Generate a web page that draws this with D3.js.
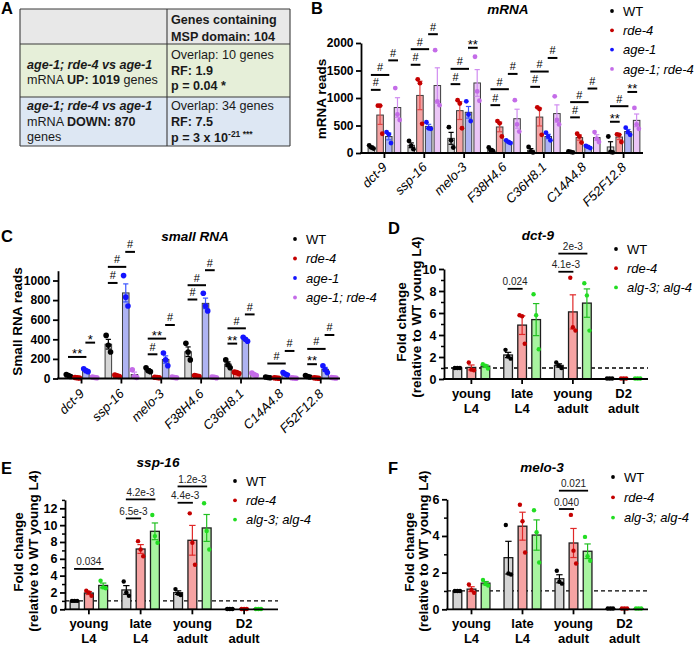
<!DOCTYPE html>
<html><head><meta charset="utf-8">
<script src="https://cdn.jsdelivr.net/npm/d3@7"></script>
<style>
body{margin:0;background:#fff;}
svg{display:block;font-family:"Liberation Sans",Arial,Helvetica,sans-serif;}
</style></head><body>
<svg id="fig" width="699" height="645"></svg>
<script>
// ================= DATA =================
const genes = ["dct-9","ssp-16","melo-3","F38H4.6","C36H8.1","C14A4.8","F52F12.8"];
const strainsBC = ["WT","rde-4","age-1","age-1; rde-4"];

// Panel B: mRNA reads (three replicates per gene)
const mrnaWT      = [[140,100,80],[220,130,70],[470,230,100],[100,50,30],[110,30,10],[30,20,10],[300,20,10]];
const mrnaRde4    = [[860,860,350],[1340,1270,530],[960,900,450],[580,540,300],[830,800,330],[350,300,190],[340,330,200]];
const mrnaAge1    = [[380,340,180],[560,450,440],[940,700,580],[230,200,180],[370,300,230],[130,110,90],[460,380,330]];
const mrnaAgeRde4 = [[1180,700,600],[1870,940,870],[1750,1120,950],[960,520,390],[1030,600,520],[380,260,200],[820,520,440]];
const mrnaTicks = [0,500,1000,1500,2000];
// [gene, from series, to series, height, label]
const mrnaSig = [
 [0,0,1,1148,"#"],[0,0,2,1419,"#"],[0,2,3,1684,"#"],
 [1,0,1,1604,"#"],[1,0,2,1888,"#"],[1,2,3,2160,"#"],
 [2,0,1,1252,"#"],[2,0,2,1530,"#"],[2,2,3,1913,"**"],
 [3,0,1,870,"#"],[3,0,2,1160,"#"],[3,2,3,1438,"#"],
 [4,0,1,1203,"#"],[4,0,2,1481,"#"],[4,2,3,1728,"#"],
 [5,0,1,648,"#"],[5,0,2,925,"#"],[5,2,3,1172,"#"],
 [6,0,1,568,"**"],[6,0,2,851,"#"],[6,2,3,1110,"**"]
];

// Panel C: small RNA reads
const smallWT      = [[40,30,20],[440,340,270],[110,80,70],[360,270,190],[190,140,110],[15,10,8],[30,20,15]];
const smallRde4    = [[10,8,5],[35,28,20],[12,10,8],[30,25,20],[65,60,50],[8,5,3],[8,5,3]];
const smallAge1    = [[100,80,70],[1050,830,740],[260,190,130],[870,740,690],[420,400,380],[60,45,35],[130,90,60]];
const smallAgeRde4 = [[15,10,8],[90,20,10],[15,10,8],[15,12,8],[55,40,30],[8,5,3],[10,8,5]];
const smallTicks = [0,200,400,600,800,1000];
const smallSig = [
 [0,0,2,220,"**"],[0,2,3,366,"*"],
 [1,0,1,975,"#"],[1,0,2,1139,"#"],[1,2,3,1292,"#"],
 [2,0,1,247,"#"],[2,0,2,407,"**"],[2,2,3,546,"#"],
 [3,0,1,806,"#"],[3,0,2,952,"#"],[3,2,3,1105,"#"],
 [4,0,1,356,"**"],[4,0,2,512,"#"],[4,2,3,654,"#"],
 [5,0,2,153,"#"],[5,2,3,281,"#"],
 [6,0,1,146,"**"],[6,0,2,302,"#"],[6,2,3,444,"#"]
];

// Panels D-F: fold change (relative to WT young L4)
const stages = [["young","L4"],["late","L4"],["young","adult"],["D2","adult"]];
const strainsDEF = ["WT","rde-4","alg-3; alg-4"];

const dct9WT   = [[1,1,1],[2.65,2.05,1.85],[1.5,1.2,1.0],[0.04,0.04,0.04]];
const dct9Rde4 = [[1.5,0.85,0.8],[5.8,5.7,3.2],[9.2,4.7,4.4],[0.04,0.04,0.04]];
const dct9Alg  = [[1.35,1.2,0.95],[7.7,5.8,2.7],[8.7,7.6,4.4],[0.04,0.04,0.04]];
const dct9Ticks = [0,2,4,6,8,10];
const dct9Sig = [[1,0,1,8.2,"0.024"],[2,0,1,9.75,"4.1e-3"],[2,0,2,11.4,"2e-3"]];

const ssp16WT   = [[1,1,1],[3.3,2.0,1.6],[2.4,1.85,1.7],[0.04,0.04,0.04]];
const ssp16Rde4 = [[2.2,2.0,1.6],[8.1,7.1,6.3],[11.4,7.9,5.3],[0.04,0.04,0.04]];
const ssp16Alg  = [[3.4,2.6,2.5],[11.2,8.7,7.9],[12.6,9.3,7.1],[0.04,0.04,0.04]];
const ssp16Ticks = [0,2,4,6,8,10,12];
const ssp16Sig = [[0,0,2,4.8,"0.034"],[1,0,1,10.8,"6.5e-3"],[1,0,2,13.06,"4.2e-3"],[2,0,1,12.66,"4.4e-3"],[2,0,2,14.6,"1.2e-3"]];

const melo3WT   = [[1,1,1],[4.6,1.95,1.9],[2.1,1.5,1.4],[0.04,0.04,0.04]];
const melo3Rde4 = [[1.35,1.05,0.9],[5.7,4.8,3.1],[5.15,3.2,2.5],[0.04,0.04,0.04]];
const melo3Alg  = [[1.6,1.38,1.3],[5.4,4.2,2.55],[3.95,2.9,2.65],[0.04,0.04,0.04]];
const melo3Ticks = [0,2,4,6];
const melo3Sig = [[2,0,1,5.47,"0.040"],[2,0,2,6.47,"0.021"]];

// Panel A table text
const tableHeader = [[["Genes containing","b"]],[["MSP domain: 104","b"]]];
const tableUpLeft = [[["age-1; rde-4 vs age-1","bi"]],[["mRNA ","n"],["UP: 1019","b"],[" genes","n"]]];
const tableUpRight = [[["Overlap: 10 genes","n"]],[["RF: 1.9","b"]],[["p = 0.04 *","b"]]];
const tableDownLeft = [[["age-1; rde-4 vs age-1","bi"]],[["mRNA ","n"],["DOWN: 870","b"]],[["genes","n"]]];
const tableDownRight = [[["Overlap: 34 genes","n"]],[["RF: 7.5","b"]],[["p = 3 x 10","b"],["-21","bs"],[" ***","bs"]]];

// ================= STYLE =================
const fillsBC = ["#d6d6d6","#f4a3a3","#aeb3f2","#ebc6f6"];
const dotsBC  = ["#000000","#c40000","#1414ff","#c46ce8"];
const errBC   = ["#000000","#e04848","#3b55ff","#d08cf0"];
const fillsDEF = ["#d4d4d4","#f6a3a3","#a8f4a0"];
const dotsDEF  = ["#000000","#c40000","#22dd22"];
const errDEF   = ["#000000","#e02828","#22c022"];

const svg = d3.select("#fig");
svg.append("rect").attr("width",699).attr("height",645).attr("fill","#fff");

function txt(g,x,y,s,o={}){
  const t=g.append("text").attr("x",x).attr("y",y).text(s)
   .attr("font-size",o.fs||13).attr("font-weight",o.b?"bold":"normal")
   .attr("font-style",o.i?"italic":"normal").attr("text-anchor",o.a||"start")
   .attr("fill",o.c||"#000");
  if(o.rot!=null) t.attr("transform",`rotate(${o.rot},${x},${y})`);
  return t;
}

function legend(x,y0,dy,names,colors,fs){
  const g=svg.append("g");
  names.forEach((n,i)=>{
    const y=y0+i*dy;
    g.append("circle").attr("cx",x).attr("cy",y).attr("r",1.9).attr("fill",colors[i]);
    txt(g,x+11,y+4.6,n,{fs:fs,i:n!=="WT"});
  });
}

function panel(o){
  const g=svg.append("g");
  const x0=d3.scaleBand().domain(d3.range(o.cats.length)).range(o.xRange);
  const x1=d3.scaleBand().domain(d3.range(o.series.length)).range([0,x0.bandwidth()]).paddingInner(o.pi).paddingOuter(o.po);
  const y=d3.scaleLinear().domain(o.yDomain).range(o.yRange);
  const ctr=(ci,si)=>x0(ci)+x1(si)+x1.bandwidth()/2;
  if(o.refLine!=null){
    g.append("line").attr("x1",o.axisX).attr("x2",o.axisEnd).attr("y1",y(o.refLine)).attr("y2",y(o.refLine))
     .attr("stroke","#000").attr("stroke-width",1.3).attr("stroke-dasharray","4,3");
  }
  o.series.forEach((ser,si)=>{
    ser.forEach((pts,ci)=>{
      const m=d3.mean(pts), e=d3.deviation(pts)/Math.sqrt(pts.length);
      const w=x1.bandwidth(), bx=x0(ci)+x1(si), c=bx+w/2;
      g.append("rect").attr("x",bx).attr("y",y(m)).attr("width",w).attr("height",Math.max(0,y(0)-y(m)))
        .attr("fill",o.fills[si]).attr("stroke",o.barStroke).attr("stroke-width",o.barSW);
      if(e>0.001){
        const lo=Math.max(0,m-e), hi=m+e;
        const eg=g.append("g").attr("stroke",o.errs[si]).attr("stroke-width",1.2);
        eg.append("line").attr("x1",c).attr("x2",c).attr("y1",y(lo)).attr("y2",y(hi));
        eg.append("line").attr("x1",c-o.cap).attr("x2",c+o.cap).attr("y1",y(hi)).attr("y2",y(hi));
        eg.append("line").attr("x1",c-o.cap).attr("x2",c+o.cap).attr("y1",y(lo)).attr("y2",y(lo));
      }
      pts.forEach((v,i)=>{
        g.append("circle").attr("cx",c+(i-1)*o.jit).attr("cy",y(v)).attr("r",o.r).attr("fill",o.dots[si]);
      });
    });
  });
  // y axis
  const ya=g.append("g").attr("transform",`translate(${o.axisX},0)`)
    .call(d3.axisLeft(y).tickValues(o.ticks).tickFormat(d3.format("d")).tickSize(5).tickPadding(2.5).tickSizeOuter(0));
  ya.attr("font-family",null).attr("font-size",null);
  ya.select(".domain").attr("stroke-width",1.8).attr("stroke","#000");
  ya.selectAll(".tick line").attr("stroke-width",1.8).attr("stroke","#000");
  ya.selectAll(".tick text").attr("font-size",o.tickFS).attr("font-weight","bold").attr("fill","#000");
  if(o.minor){
    const ym=g.append("g").attr("transform",`translate(${o.axisX},0)`)
      .call(d3.axisLeft(y).tickValues(o.minor).tickSize(3).tickFormat("").tickSizeOuter(0));
    ym.select(".domain").remove();
    ym.selectAll(".tick line").attr("stroke-width",1.5).attr("stroke","#000");
  }
  // x axis
  g.append("line").attr("x1",o.axisX-0.9).attr("x2",o.axisEnd).attr("y1",y(0)).attr("y2",y(0))
    .attr("stroke","#000").attr("stroke-width",1.8);
  const xa=g.append("g").attr("transform",`translate(0,${y(0)})`)
    .call(d3.axisBottom(x0).tickSize(5).tickFormat(""));
  xa.select(".domain").remove();
  xa.selectAll(".tick line").attr("stroke-width",1.8).attr("stroke","#000");
  // category labels
  o.cats.forEach((cat,ci)=>{
    const cx=x0(ci)+x0.bandwidth()/2;
    if(o.rotLabels){
      const ax=cx+3.5, ay=y(0)+o.labDy;
      txt(g,ax,ay,cat,{fs:13,i:true,a:"end",rot:-45});
    } else {
      txt(g,cx,y(0)+19,cat[0],{fs:13,b:true,a:"middle"});
      txt(g,cx,y(0)+33.5,cat[1],{fs:13,b:true,a:"middle"});
    }
  });
  // significance
  o.sig.forEach(([ci,a,b,v,lab])=>{
    const xa1=ctr(ci,a), xb=ctr(ci,b), yy=y(v);
    g.append("line").attr("x1",xa1-o.sigExt).attr("x2",xb+o.sigExt).attr("y1",yy).attr("y2",yy)
      .attr("stroke","#000").attr("stroke-width",o.sigSW);
    const xm=(xa1+xb)/2;
    if(o.sigStyle==="hash"){
      if(lab.includes("*")) txt(g,xm,yy+1,lab,{fs:13,a:"middle"});
      else txt(g,xm,yy-3.6,lab,{fs:11,a:"middle"});
    } else {
      txt(g,xm,yy-3.5,lab,{fs:10,a:"middle",c:"#222"});
    }
  });
  return {x0,x1,y};
}

// ================= PANEL A =================
(function(){
  const g=svg.append("g");
  const X0=20, X1=167, X2=290, Y0=9, Y1=44, Y2=97, Y3=146;
  g.append("rect").attr("x",X0).attr("y",Y0).attr("width",X2-X0).attr("height",Y1-Y0).attr("fill","#e8e8e8");
  g.append("rect").attr("x",X0).attr("y",Y1).attr("width",X2-X0).attr("height",Y2-Y1).attr("fill","#e6efd9");
  g.append("rect").attr("x",X0).attr("y",Y2).attr("width",X2-X0).attr("height",Y3-Y2).attr("fill","#dde7f3");
  const ln=(x1,y1,x2,y2)=>g.append("line").attr("x1",x1).attr("y1",y1).attr("x2",x2).attr("y2",y2).attr("stroke","#3a3a3a").attr("stroke-width",1.1);
  ln(X0,Y0,X2,Y0);ln(X0,Y1,X2,Y1);ln(X0,Y2,X2,Y2);ln(X0,Y3,X2,Y3);
  ln(X0,Y0,X0,Y3);ln(X1,Y0,X1,Y3);ln(X2,Y0,X2,Y3);
  function rich(x,y,segs){
    const t=g.append("text").attr("x",x).attr("y",y).attr("font-size",12.6).attr("fill","#1a1a1a");
    let sup=false;
    segs.forEach(([s,st])=>{
      const sp=t.append("tspan").text(s);
      if(st.includes("b")) sp.attr("font-weight","bold");
      if(st.includes("i")) sp.attr("font-style","italic");
      if(st.includes("s")){ sp.attr("font-size",8.5); if(!sup){sp.attr("dy",-5);sup=true;} }
    });
  }
  rich(171,23.5,tableHeader[0]); rich(171,40.5,tableHeader[1]);
  tableUpLeft.forEach((l,i)=>rich(27,69+i*15.2,l));
  tableUpRight.forEach((l,i)=>rich(171,59+i*15.5,l));
  tableDownLeft.forEach((l,i)=>rich(27,110+i*15.5,l));
  tableDownRight.forEach((l,i)=>rich(171,110+i*15.8,l));
})();

// ================= PANEL LETTERS & TITLES =================
const labels=svg.append("g");
txt(labels,1,14,"A",{fs:16.5,b:true});
txt(labels,311,14,"B",{fs:16.5,b:true});
txt(labels,1,241.5,"C",{fs:16.5,b:true});
txt(labels,388,234,"D",{fs:16.5,b:true});
txt(labels,1,474,"E",{fs:16.5,b:true});
txt(labels,388,473.5,"F",{fs:16.5,b:true});

txt(labels,508,14,"mRNA",{fs:13.5,b:true,i:true,a:"middle"});
txt(labels,195,240.5,"small RNA",{fs:13.5,b:true,i:true,a:"middle"});
txt(labels,538,239.5,"dct-9",{fs:13.5,b:true,i:true,a:"middle"});
txt(labels,158,466.5,"ssp-16",{fs:13.5,b:true,i:true,a:"middle"});
txt(labels,542,472,"melo-3",{fs:13.5,b:true,i:true,a:"middle"});

// y-axis titles
txt(labels,326,99,"mRNA reads",{fs:13.5,b:true,a:"middle",rot:-90});
txt(labels,22,321.5,"Small RNA reads",{fs:13.5,b:true,a:"middle",rot:-90});
txt(labels,406,322,"Fold change",{fs:13.5,b:true,a:"middle",rot:-90});
txt(labels,421,317,"(relative to WT young L4)",{fs:13.5,b:true,a:"middle",rot:-90});
txt(labels,23,552,"Fold change",{fs:13.5,b:true,a:"middle",rot:-90});
txt(labels,38,551,"(relative to WT young L4)",{fs:13.5,b:true,a:"middle",rot:-90});
txt(labels,414,552,"Fold change",{fs:13.5,b:true,a:"middle",rot:-90});
txt(labels,428,551,"(relative to WT young L4)",{fs:13.5,b:true,a:"middle",rot:-90});

// ================= PANELS =================
const bcCommon={pi:0.25,po:0.415,fills:fillsBC,dots:dotsBC,errs:errBC,barStroke:"#3c3c3c",barSW:1,
  cap:2.6,r:2.4,jit:2.2,tickFS:12,rotLabels:true,sigStyle:"hash",sigSW:2,sigExt:0.5};
panel(Object.assign({},bcCommon,{cats:genes,series:[mrnaWT,mrnaRde4,mrnaAge1,mrnaAgeRde4],
  xRange:[364.5,643.5],yDomain:[0,2000],yRange:[153,43],axisX:361,axisEnd:643,ticks:mrnaTicks,
  sig:mrnaSig,labDy:15}));
panel(Object.assign({},bcCommon,{cats:genes,series:[smallWT,smallRde4,smallAge1,smallAgeRde4],
  xRange:[61.6,340.7],yDomain:[0,1100],yRange:[378.5,270.7],axisX:58,axisEnd:340,ticks:smallTicks,
  sig:smallSig,labDy:16,r:2.8}));

const defCommon={cats:stages,pi:0.38,po:0.5,fills:fillsDEF,dots:dotsDEF,errs:errDEF,barStroke:"#1e1e1e",barSW:1.3,
  cap:3.2,r:2.2,jit:2.6,tickFS:12.5,rotLabels:false,sigStyle:"num",sigSW:1.8,sigExt:0.5,refLine:1};
panel(Object.assign({},defCommon,{series:[dct9WT,dct9Rde4,dct9Alg],xRange:[446,649],
  yDomain:[0,10],yRange:[379,269],axisX:444,axisEnd:648,ticks:dct9Ticks,minor:[1,3,5,7,9],sig:dct9Sig}));
panel(Object.assign({},defCommon,{series:[ssp16WT,ssp16Rde4,ssp16Alg],xRange:[63,270],
  yDomain:[0,13],yRange:[609.3,499.9],axisX:65,axisEnd:278,ticks:ssp16Ticks,minor:[1,3,5,7,9,11,13],sig:ssp16Sig}));
panel(Object.assign({},defCommon,{series:[melo3WT,melo3Rde4,melo3Alg],xRange:[446,650],
  yDomain:[0,6],yRange:[609.3,499.3],axisX:447,axisEnd:648,ticks:melo3Ticks,minor:[1,3,5],sig:melo3Sig}));

// ================= LEGENDS =================
legend(612,11,19.3,strainsBC,dotsBC,13);
legend(295,239,19.5,strainsBC,dotsBC,13);
legend(616,249,19.2,strainsDEF,dotsDEF,13);
legend(235,481,19.3,strainsDEF,dotsDEF,13);
legend(613,477,20.3,strainsDEF,dotsDEF,13);
</script>
</body></html>
